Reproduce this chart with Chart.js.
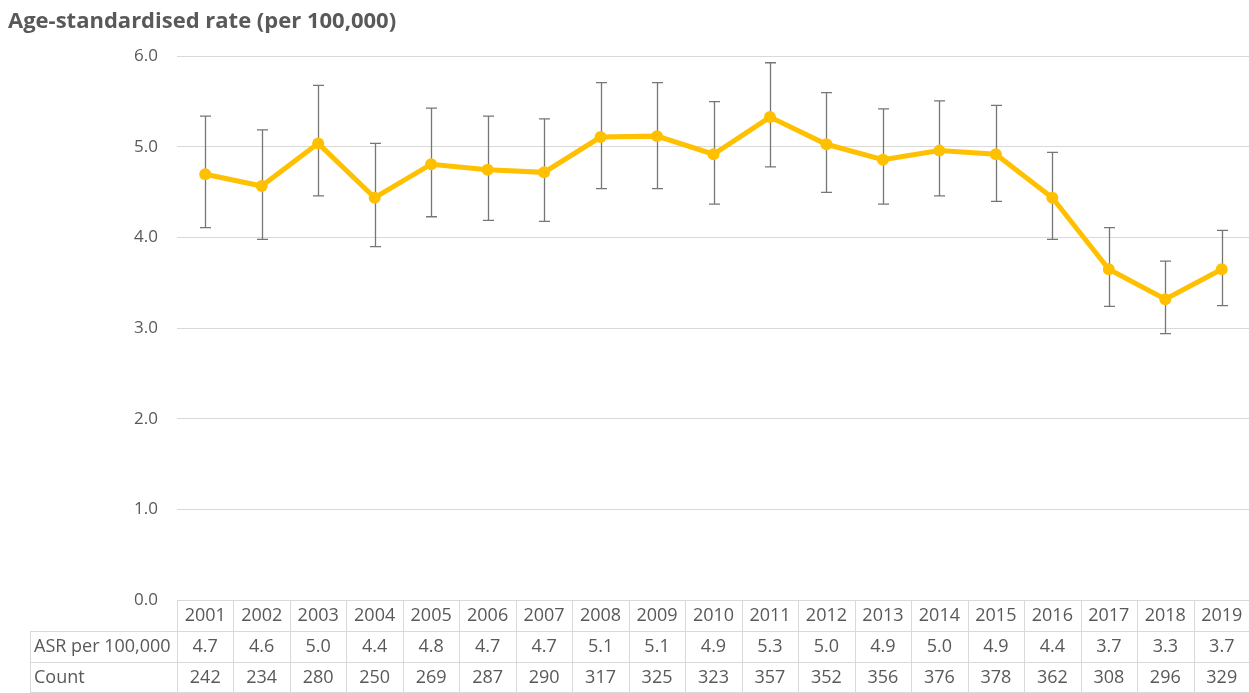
<!DOCTYPE html>
<html>
<head>
<meta charset="utf-8">
<script src="https://cdn.jsdelivr.net/npm/chart.js@4"></script>
<style>
  html, body { margin: 0; padding: 0; background: #fff; overflow: hidden; }
  #wrap { width: 1256px; height: 693px; position: relative; }
</style>
</head>
<body>
<div id="wrap"><canvas id="myChart"></canvas></div>
<script>
// data
var years = ["2001", "2002", "2003", "2004", "2005", "2006", "2007", "2008", "2009", "2010",
             "2011", "2012", "2013", "2014", "2015", "2016", "2017", "2018", "2019"];
var rate = [4.70, 4.57, 5.04, 4.44, 4.81, 4.75, 4.72, 5.11, 5.12, 4.92,
            5.33, 5.03, 4.86, 4.96, 4.92, 4.44, 3.65, 3.32, 3.65];
var upper = [5.34, 5.19, 5.68, 5.04, 5.43, 5.34, 5.31, 5.71, 5.71, 5.50,
             5.93, 5.60, 5.42, 5.51, 5.46, 4.94, 4.11, 3.74, 4.08];
var lower = [4.11, 3.98, 4.46, 3.90, 4.23, 4.19, 4.18, 4.54, 4.54, 4.37,
             4.78, 4.50, 4.37, 4.46, 4.40, 3.98, 3.24, 2.94, 3.25];
var asrText = ["4.7", "4.6", "5.0", "4.4", "4.8", "4.7", "4.7", "5.1", "5.1", "4.9",
               "5.3", "5.0", "4.9", "5.0", "4.9", "4.4", "3.7", "3.3", "3.7"];
var counts = [242, 234, 280, 250, 269, 287, 290, 317, 325, 323,
              357, 352, 356, 376, 378, 362, 308, 296, 329];
var yTicks = [0, 1, 2, 3, 4, 5, 6];
var rowNames = ["ASR per 100,000", "Count"];

var textColor = '#595959';
var lineColor = '#d9d9d9';
var fontFam = '"Open Sans", "Noto Sans", sans-serif';

// error bars, drawn under the line
var errorBars = {
    id: 'errorBars',
    beforeDatasetsDraw: function (chart) {
        var c = chart.ctx;
        var xs = chart.scales.x;
        var ys = chart.scales.y;
        c.save();
        c.strokeStyle = '#767676';
        c.lineWidth = 1.3;
        for (var i = 0; i < years.length; i++) {
            var x = Math.round(xs.getPixelForValue(i)) + 0.5;
            var y1 = ys.getPixelForValue(upper[i]);
            var y2 = ys.getPixelForValue(lower[i]);
            c.beginPath();
            c.moveTo(x, y1); c.lineTo(x, y2);
            c.moveTo(x - 5.5, y1); c.lineTo(x + 5.5, y1);
            c.moveTo(x - 5.5, y2); c.lineTo(x + 5.5, y2);
            c.stroke();
        }
        c.restore();
    }
};

// data table under the plot
var dataTable = {
    id: 'dataTable',
    afterDraw: function (chart) {
        var c = chart.ctx;
        var xs = chart.scales.x;
        var area = chart.chartArea;
        var top = Math.round(area.bottom);
        var rowH = 31;
        var headLeft = 30;
        var w = xs.getPixelForValue(1) - xs.getPixelForValue(0);
        var right = area.left + w * years.length;

        c.save();
        c.strokeStyle = lineColor;
        c.lineWidth = 1;
        c.beginPath();
        c.moveTo(area.left, top + 0.5); c.lineTo(right, top + 0.5);
        for (var r = 1; r <= 3; r++) {
            var yy = Math.min(top + rowH * r, chart.height - 1) + 0.5;
            c.moveTo(headLeft, yy); c.lineTo(right, yy);
        }
        c.moveTo(headLeft + 0.5, top + rowH); c.lineTo(headLeft + 0.5, top + rowH * 3);
        for (var i = 0; i <= years.length; i++) {
            var bx = Math.round(area.left + w * i) + 0.5;
            c.moveTo(bx, top); c.lineTo(bx, top + rowH * 3);
        }
        c.stroke();

        c.fillStyle = textColor;
        c.font = '18px ' + fontFam;
        c.textBaseline = 'middle';
        c.textAlign = 'center';
        for (var j = 0; j < years.length; j++) {
            var cx = xs.getPixelForValue(j);
            c.fillText(years[j], cx, top + rowH / 2);
            c.fillText(asrText[j], cx, top + rowH * 1.5);
            c.fillText(String(counts[j]), cx, top + rowH * 2.5);
        }
        c.textAlign = 'left';
        c.fillText(rowNames[0], headLeft + 4, top + rowH * 1.5);
        c.fillText(rowNames[1], headLeft + 4, top + rowH * 2.5);
        c.restore();
    }
};

var ctx = document.getElementById('myChart').getContext('2d');
var chart = new Chart(ctx, {
    type: 'line',
    data: {
        labels: years,
        datasets: [{
            label: 'ASR per 100,000',
            data: rate,
            borderColor: '#FFC000',
            backgroundColor: '#FFC000',
            borderWidth: 5,
            pointRadius: 6,
            pointBorderWidth: 0,
            tension: 0,
            fill: false
        }]
    },
    options: {
        responsive: true,
        maintainAspectRatio: false,
        animation: false,
        layout: { padding: { left: 8, right: 2, top: 0, bottom: 93 } },
        plugins: {
            legend: { display: false },
            tooltip: { enabled: false },
            title: {
                display: true,
                text: 'Age-standardised rate (per 100,000)',
                align: 'start',
                color: textColor,
                font: { family: fontFam, size: 22, weight: 'bold' },
                padding: { top: 9, bottom: 21 }
            }
        },
        scales: {
            x: {
                display: false,
                offset: true
            },
            y: {
                min: yTicks[0],
                max: yTicks[yTicks.length - 1],
                afterBuildTicks: function (s) {
                    s.ticks = yTicks.map(function (v) { return { value: v }; });
                },
                afterFit: function (s) { s.width = 169; },
                ticks: {
                    color: textColor,
                    padding: 19,
                    font: { family: fontFam, size: 17 },
                    callback: function (v) { return Number(v).toFixed(1); }
                },
                grid: { color: lineColor, drawTicks: false },
                border: { display: false }
            }
        }
    },
    plugins: [errorBars, dataTable]
});
</script>
</body>
</html>
